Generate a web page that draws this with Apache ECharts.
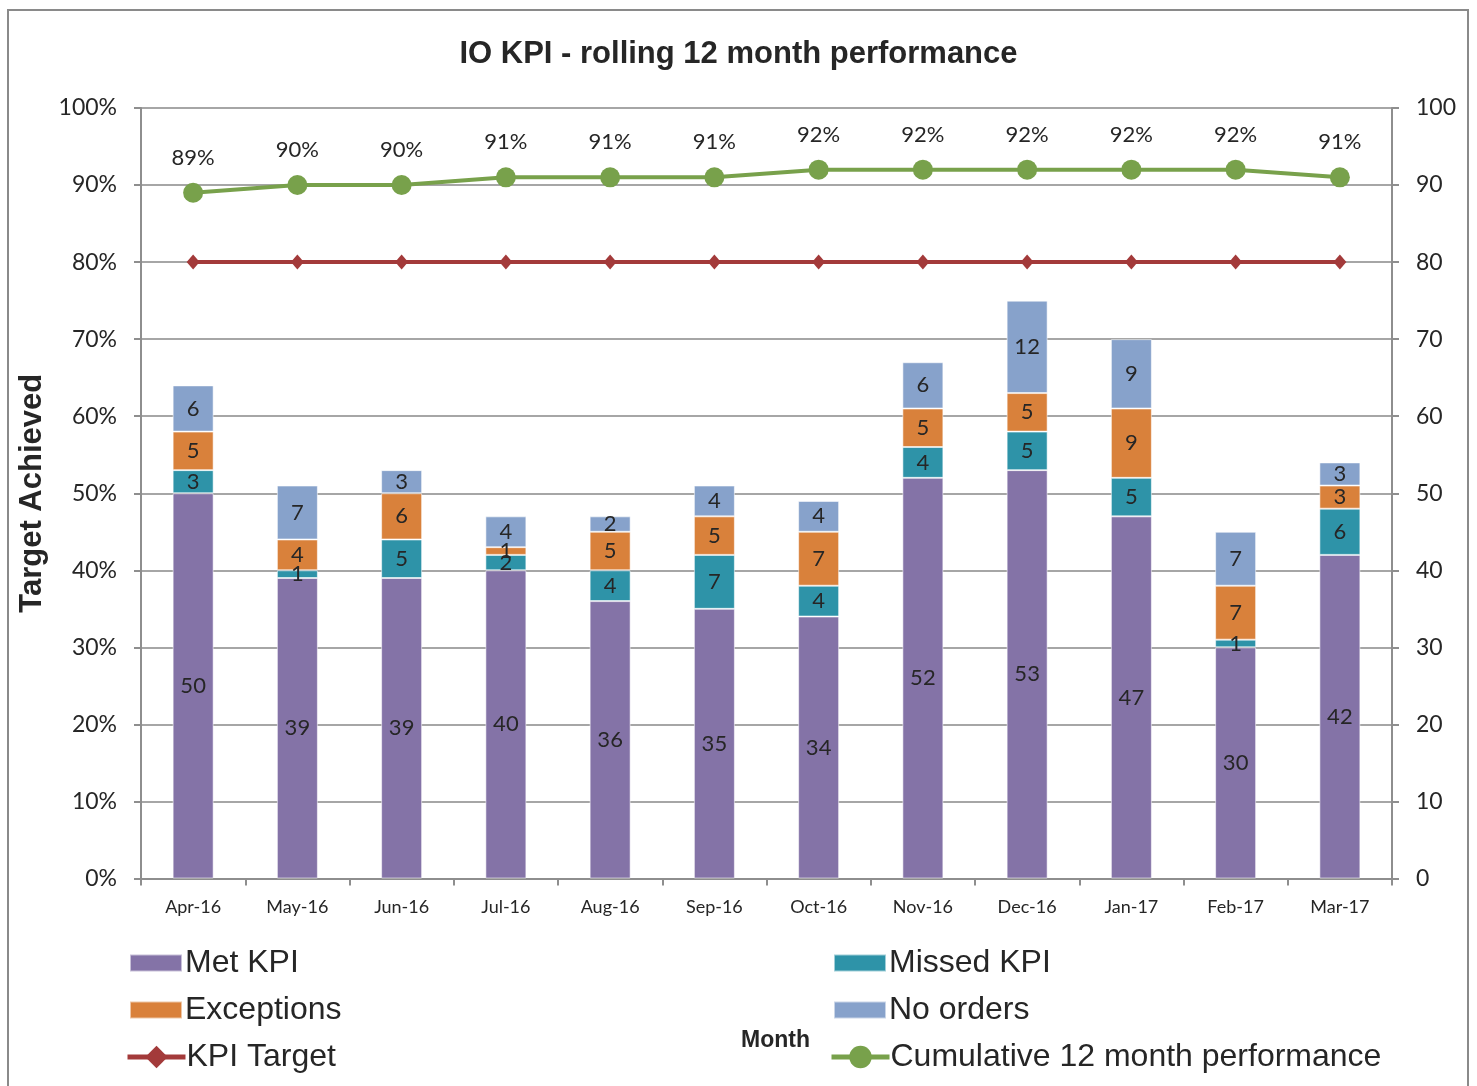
<!DOCTYPE html>
<html>
<head>
<meta charset="utf-8">
<script src="https://cdn.jsdelivr.net/npm/echarts@6/dist/echarts.min.js"></script>
<style>html,body{margin:0;padding:0;background:#fff;}#c{width:1477px;height:1086px;}</style>
</head>
<body>
<div id="c"></div>
<script>
const months = ['Apr-16','May-16','Jun-16','Jul-16','Aug-16','Sep-16','Oct-16','Nov-16','Dec-16','Jan-17','Feb-17','Mar-17'];
const metKPI = [50,39,39,40,36,35,34,52,53,47,30,42];
const missedKPI = [3,1,5,2,4,7,4,4,5,5,1,6];
const exceptions = [5,4,6,1,5,5,7,5,5,9,7,3];
const noOrders = [6,7,3,4,2,4,4,6,12,9,7,3];
const kpiTarget = [80,80,80,80,80,80,80,80,80,80,80,80];
const cumulative = [89,90,90,91,91,91,92,92,92,92,92,91];

const txt = '#262626';
const numFont = 'Lato';
const chart = echarts.init(document.getElementById('c'));

function barSeries(name, data, color) {
  return {
    name, type: 'bar', stack: 'kpi', data, barWidth: 41, yAxisIndex: 0,
    itemStyle: { color, borderColor: 'rgba(255,255,255,0.55)', borderWidth: 1 },
    label: { show: true, position: 'inside', color: txt, fontFamily: numFont, fontSize: 22 },
    emphasis: { disabled: true }
  };
}
function legendAt(name, left, top, isLine) {
  const l = {
    data: [name], left, top, padding: 0, orient: 'horizontal',
    itemWidth: isLine ? 58 : 52, itemHeight: isLine ? 28 : 17, itemGap: 5,
    textStyle: { fontFamily: 'Liberation Sans', fontSize: 32, color: txt, padding: [0,0,0,-4] },
    selectedMode: false
  };
  if (isLine) { l.lineStyle = { width: 5 }; } else { l.icon = 'rect'; l.textStyle.padding = [0,0,0,-2]; }
  return l;
}

chart.setOption({
  animation: false,
  backgroundColor: '#fff',
  title: {
    text: 'IO KPI - rolling 12 month performance',
    left: 'center', top: 34,
    textStyle: { fontFamily: 'Liberation Sans', fontWeight: 'bold', fontSize: 31, color: txt }
  },
  graphic: [{
    type: 'rect', shape: { x: 8, y: 10, width: 1460, height: 1090 },
    style: { fill: 'none', stroke: '#8a8a8a', lineWidth: 2 }, silent: true, z: -10
  }],
  legend: [
    legendAt('Met KPI', 129, 947, false),
    legendAt('Missed KPI', 833, 947, false),
    legendAt('Exceptions', 129, 994, false),
    legendAt('No orders', 833, 994, false),
    legendAt('KPI Target', 125, 1041, true),
    legendAt('Cumulative 12 month performance', 829, 1041, true)
  ],
  grid: { left: 141, right: 85, top: 108, bottom: 207.5 },
  xAxis: {
    type: 'category', data: months,
    name: 'Month', nameLocation: 'middle', nameGap: 151,
    nameTextStyle: { fontFamily: 'Liberation Sans', fontWeight: 'bold', fontSize: 23, color: txt, padding: [0,0,0,18] },
    axisLine: { lineStyle: { color: '#8e8e8e', width: 2 } },
    axisTick: { show: true, length: 7, lineStyle: { color: '#8e8e8e', width: 2 } },
    axisLabel: { fontFamily: numFont, fontSize: 18, color: txt, margin: 20 }
  },
  yAxis: [{
    type: 'value', min: 0, max: 100, interval: 10, position: 'left',
    name: 'Target Achieved', nameLocation: 'middle', nameGap: 93,
    nameTextStyle: { fontFamily: 'Liberation Sans', fontWeight: 'bold', fontSize: 31, color: txt },
    axisLine: { show: true, lineStyle: { color: '#8e8e8e', width: 2 } },
    axisTick: { show: true, length: 7, lineStyle: { color: '#8e8e8e', width: 2 } },
    axisLabel: { formatter: '{value}%', fontFamily: numFont, fontSize: 23, color: txt, margin: 24 },
    splitLine: { show: true, lineStyle: { color: '#a6a6a6', width: 2 } }
  }, {
    type: 'value', min: 0, max: 100, interval: 10, position: 'right',
    axisLine: { show: true, lineStyle: { color: '#8e8e8e', width: 2 } },
    axisTick: { show: true, length: 7, lineStyle: { color: '#8e8e8e', width: 2 } },
    axisLabel: { fontFamily: numFont, fontSize: 23, color: txt, margin: 24 },
    splitLine: { show: false }
  }],
  series: [
    barSeries('Met KPI', metKPI, '#8473a7'),
    barSeries('Missed KPI', missedKPI, '#2e93a8'),
    barSeries('Exceptions', exceptions, '#d9813b'),
    barSeries('No orders', noOrders, '#87a2cb'),
    {
      name: 'KPI Target', type: 'line', data: kpiTarget, yAxisIndex: 0, z: 5,
      symbol: 'diamond', symbolSize: [13, 15],
      lineStyle: { color: '#a33a3a', width: 4 }, itemStyle: { color: '#a33a3a' },
      emphasis: { disabled: true }
    },
    {
      name: 'Cumulative 12 month performance', type: 'line', data: cumulative, yAxisIndex: 0, z: 6,
      symbol: 'circle', symbolSize: 20,
      lineStyle: { color: '#78a14b', width: 4 }, itemStyle: { color: '#78a14b' },
      label: { show: true, position: 'top', distance: 14, formatter: '{c}%', fontFamily: numFont, fontSize: 22, color: txt },
      emphasis: { disabled: true }
    }
  ]
});
</script>
</body>
</html>
